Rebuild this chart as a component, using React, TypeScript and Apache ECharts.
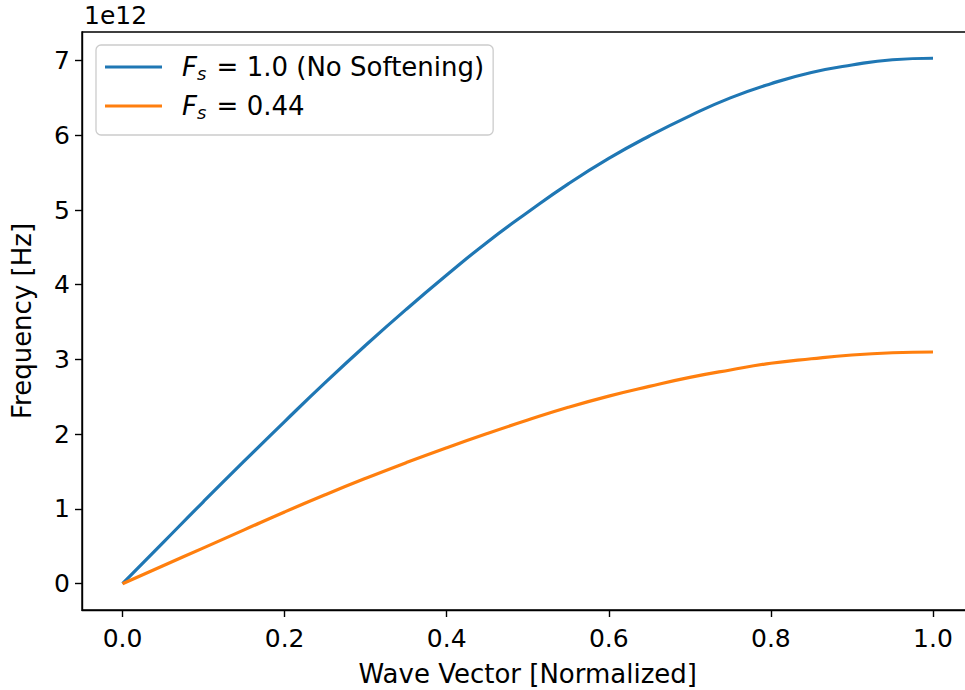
import React, { useEffect, useRef } from "react";
import * as echarts from "echarts";

const waveVector = [0, 0.05, 0.1, 0.15, 0.2, 0.25, 0.3, 0.35, 0.4, 0.45, 0.5, 0.55, 0.6, 0.65, 0.7, 0.75, 0.8, 0.85, 0.9, 0.95, 1.0];
// Frequencies in units of 1e12 Hz
const freqNoSoftening = [0, 0.55, 1.10, 1.64, 2.17, 2.69, 3.19, 3.67, 4.13, 4.57, 4.97, 5.35, 5.69, 5.99, 6.26, 6.50, 6.69, 6.84, 6.94, 7.01, 7.03];
const freqSoftened = [0, 0.24, 0.48, 0.72, 0.96, 1.19, 1.41, 1.62, 1.82, 2.01, 2.19, 2.36, 2.51, 2.64, 2.76, 2.86, 2.95, 3.01, 3.06, 3.09, 3.10];
const xTicks = [0, 0.2, 0.4, 0.6, 0.8, 1.0];
const yTicks = [0, 1, 2, 3, 4, 5, 6, 7];
const SCALE = 1e12;

const FONT = "DejaVu Sans";

export default function App() {
  const ref = useRef<HTMLDivElement>(null);
  useEffect(() => {
    if (!ref.current) return;
    const chart = echarts.init(ref.current, null, { renderer: "svg" });
    const mk = (ys: number[]) => waveVector.map((x, i) => [x, ys[i] * SCALE]);
    const fontSize = 25;
    const nameSize = 26;
    chart.setOption({
      animation: false,
      backgroundColor: "#ffffff",
      textStyle: { fontFamily: FONT },
      grid: {
        left: 82,
        top: 32,
        right: -8.5,
        bottom: 80,
        show: true,
        borderColor: "#000",
        borderWidth: 1.4,
        outerBoundsMode: "none",
        containLabel: false,
      },
      xAxis: {
        type: "value",
        min: -0.05,
        max: 1.05,
        name: "Wave Vector [Normalized]",
        nameLocation: "middle",
        nameGap: 51,
        nameTextStyle: { fontFamily: FONT, fontSize: nameSize, color: "#000" },
        axisLine: { show: true, onZero: false, lineStyle: { color: "#000", width: 1.4 } },
        axisTick: { show: true, length: 7, lineStyle: { color: "#000", width: 1.4 }, customValues: xTicks },
        axisLabel: {
          fontFamily: FONT,
          fontSize,
          color: "#000",
          margin: 16,
          customValues: xTicks,
          formatter: (v: number) => v.toFixed(1),
        },
        splitLine: { show: false },
      },
      yAxis: {
        type: "value",
        min: -0.3515 * SCALE,
        max: 7.3815 * SCALE,
        name: "Frequency [Hz]",
        nameLocation: "middle",
        nameGap: 47,
        nameRotate: 90,
        nameTextStyle: { fontFamily: FONT, fontSize: nameSize, color: "#000" },
        axisLine: { show: true, onZero: false, lineStyle: { color: "#000", width: 1.4 } },
        axisTick: { show: true, length: 7, lineStyle: { color: "#000", width: 1.4 }, customValues: yTicks.map((t) => t * SCALE) },
        axisLabel: {
          fontFamily: FONT,
          fontSize,
          color: "#000",
          margin: 12,
          customValues: yTicks.map((t) => t * SCALE),
          formatter: (v: number) => String(Math.round(v / SCALE)),
        },
        splitLine: { show: false },
      },
      legend: {
        orient: "vertical",
        left: 96,
        top: 45,
        padding: [9, 9, 14, 9],
        itemGap: 11,
        itemWidth: 57,
        itemHeight: 3,
        icon: "rect",
        borderColor: "#cccccc",
        borderWidth: 1.3,
        borderRadius: 5,
        backgroundColor: "rgba(255,255,255,0.8)",
        textStyle: {
          fontFamily: FONT,
          fontSize: nameSize,
          color: "#000",
          padding: [0, 0, 0, 15],
          rich: {
            i: { fontFamily: FONT, fontStyle: "italic", fontSize: nameSize, color: "#000", lineHeight: 30 },
            s: { fontFamily: FONT, fontStyle: "italic", fontSize: 18, color: "#000", verticalAlign: "bottom", lineHeight: 30, padding: [10, 2, 0, 0] },
            n: { fontFamily: FONT, fontSize: nameSize, color: "#000", lineHeight: 30 },
          },
        },
        formatter: (name: string) =>
          name === "noSoft"
            ? "{i|F}{s|s}{n| = 1.0 (No Softening)}"
            : "{i|F}{s|s}{n| = 0.44}",
        data: ["noSoft", "soft"],
      },
      graphic: [
        {
          type: "text",
          left: 84,
          top: 3,
          style: { text: "1e12", fontFamily: FONT, fontSize, fill: "#000" },
        },
      ],
      series: [
        {
          name: "noSoft",
          type: "line",
          data: mk(freqNoSoftening),
          smooth: true,
          showSymbol: false,
          lineStyle: { color: "#1f77b4", width: 3.2 },
          itemStyle: { color: "#1f77b4" },
        },
        {
          name: "soft",
          type: "line",
          data: mk(freqSoftened),
          smooth: true,
          showSymbol: false,
          lineStyle: { color: "#ff7f0e", width: 3.2 },
          itemStyle: { color: "#ff7f0e" },
        },
      ],
    });
    return () => chart.dispose();
  }, []);
  return <div ref={ref} style={{ width: 965, height: 690, position: "absolute", left: 0, top: 0 }} />;
}
